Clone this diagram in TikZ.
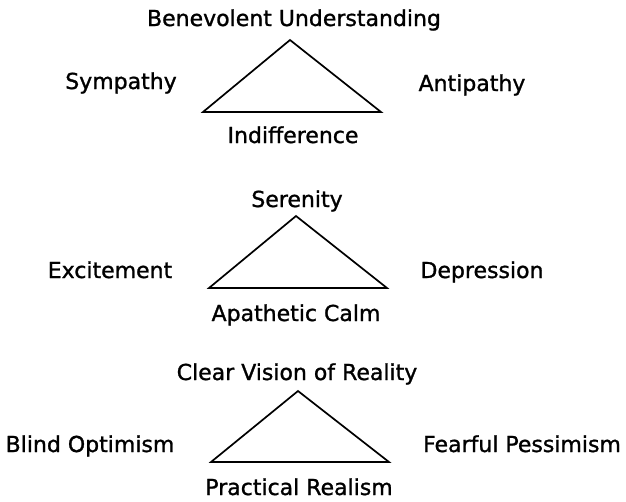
\documentclass[tikz,border=0pt]{standalone}
\usepackage{fontspec}
\setmainfont{DejaVu Sans}[AutoFakeBold=1.2]
\usepackage{tikz}
\usetikzlibrary{positioning}

\tikzset{
  lbl/.style={font=\fontsize{22}{26}\selectfont\bfseries,inner sep=0pt,anchor=base},
  tri/.style={line width=1.7pt,line join=miter}
}

\begin{document}
\begin{tikzpicture}[x=1pt,y=-1pt]
\useasboundingbox (0,0) rectangle (626,501);
% top triangle
\coordinate (t1) at (290,40);
\coordinate (l1) at (203,112);
\coordinate (r1) at (381,112);
\draw[tri] (t1) -- (l1) -- (r1) -- cycle;
\node[lbl] (benevolent) at (294,26) {Benevolent Understanding};
\node[lbl] (sympathy) at (121,89) {Sympathy};
\node[lbl] (antipathy) at (472,91) {Antipathy};
\node[lbl] (indifference) at (293,143) {Indifference};
% middle triangle
\coordinate (t2) at (296,216);
\coordinate (l2) at (209,288);
\coordinate (r2) at (387,288);
\draw[tri] (t2) -- (l2) -- (r2) -- cycle;
\node[lbl] (serenity) at (297,207) {Serenity};
\node[lbl] (excitement) at (110,278) {Excitement};
\node[lbl] (depression) at (482,278) {Depression};
\node[lbl] (calm) at (296,321) {Apathetic Calm};
% bottom triangle
\coordinate (t3) at (298,391);
\coordinate (l3) at (211,462);
\coordinate (r3) at (389,462);
\draw[tri] (t3) -- (l3) -- (r3) -- cycle;
\node[lbl] (vision) at (297,380) {Clear Vision of Reality};
\node[lbl] (optimism) at (90,452) {Blind Optimism};
\node[lbl] (pessimism) at (522,452) {Fearful Pessimism};
\node[lbl] (realism) at (299,495) {Practical Realism};
\end{tikzpicture}
\end{document}
